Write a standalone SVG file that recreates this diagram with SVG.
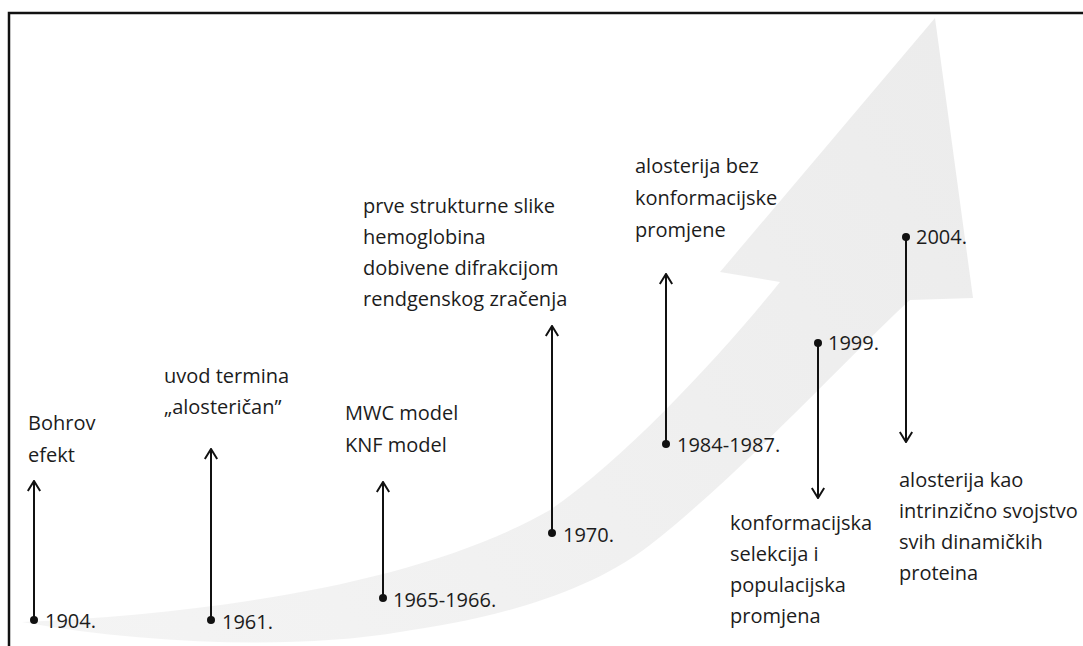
<svg xmlns="http://www.w3.org/2000/svg" width="1083" height="646" viewBox="0 0 1083 646">
<defs>
<linearGradient id="bandGrad" x1="22" y1="622" x2="935" y2="18" gradientUnits="userSpaceOnUse">
<stop offset="0" stop-color="#f4f4f4"/>
<stop offset="1" stop-color="#ececec"/>
</linearGradient>
<marker id="open" viewBox="0 0 12 14" refX="11" refY="7" markerWidth="12" markerHeight="14" markerUnits="userSpaceOnUse" orient="auto">
<path d="M1,0.8 L11,7 L1,13.2" fill="none" stroke="#111" stroke-width="2" stroke-linejoin="miter"/>
</marker>
<style>
.t{font-family:"Open Sans","Noto Sans","Liberation Sans",sans-serif;font-size:20px;fill:#1c1c1c}
.c{stroke:#111;stroke-width:2;fill:none;marker-end:url(#open)}
.d{fill:#111}
</style>
</defs>
<rect width="1083" height="646" fill="#ffffff"/>
<path id="band" d="M22,622 C200,615 420,585 550,510 C630,455 725,350 780,282 L720,272 L935,18 L973,298 L910,300 C860,345 740,475 650,545 C578,601 470,622 400,632 C300,649 150,645 22,622 Z" fill="url(#bandGrad)"/>
<path d="M9,646 L9,13 L1083,13" fill="none" stroke="#111" stroke-width="2.5"/>
<g id="connectors">
<line class="c" x1="34" y1="620" x2="34" y2="481"/>
<line class="c" x1="211" y1="620" x2="211" y2="449"/>
<line class="c" x1="383" y1="598" x2="383" y2="482"/>
<line class="c" x1="552" y1="533" x2="552" y2="326"/>
<line class="c" x1="666" y1="444" x2="666" y2="274"/>
<line class="c" x1="818" y1="343" x2="818" y2="498"/>
<line class="c" x1="906" y1="237" x2="906" y2="442"/>
</g>
<g id="e1904">
<circle class="d" cx="34" cy="620" r="4"/>
<text class="t" x="45" y="628">1904.</text>
<text class="t" x="28" y="430">Bohrov</text>
<text class="t" x="28" y="462">efekt</text>
</g>
<g id="e1961">
<circle class="d" cx="211" cy="620" r="4"/>
<text class="t" x="222" y="629">1961.</text>
<text class="t" x="164" y="383">uvod termina</text>
<text class="t" x="164" y="414">„alosteričan”</text>
</g>
<g id="e1965">
<circle class="d" cx="383" cy="598" r="4"/>
<text class="t" x="393" y="607">1965-1966.</text>
<text class="t" x="345" y="420">MWC model</text>
<text class="t" x="345" y="452">KNF model</text>
</g>
<g id="e1970">
<circle class="d" cx="552" cy="533" r="4"/>
<text class="t" x="563" y="542">1970.</text>
<text class="t" x="363" y="213">prve strukturne slike</text>
<text class="t" x="363" y="244">hemoglobina</text>
<text class="t" x="363" y="275">dobivene difrakcijom</text>
<text class="t" x="363" y="306">rendgenskog zračenja</text>
</g>
<g id="e1984">
<circle class="d" cx="666" cy="444" r="4"/>
<text class="t" x="677" y="452">1984-1987.</text>
<text class="t" x="635" y="173">alosterija bez</text>
<text class="t" x="635" y="205">konformacijske</text>
<text class="t" x="635" y="237">promjene</text>
</g>
<g id="e1999">
<circle class="d" cx="818" cy="343" r="4"/>
<text class="t" x="828" y="350">1999.</text>
<text class="t" x="730" y="530">konformacijska</text>
<text class="t" x="730" y="561">selekcija i</text>
<text class="t" x="730" y="592">populacijska</text>
<text class="t" x="730" y="623">promjena</text>
</g>
<g id="e2004">
<circle class="d" cx="906" cy="237" r="4"/>
<text class="t" x="916" y="244">2004.</text>
<text class="t" x="899" y="487">alosterija kao</text>
<text class="t" x="899" y="518">intrinzično svojstvo</text>
<text class="t" x="899" y="549">svih dinamičkih</text>
<text class="t" x="899" y="580">proteina</text>
</g>
</svg>
